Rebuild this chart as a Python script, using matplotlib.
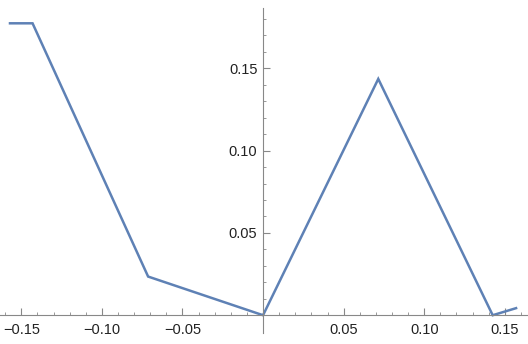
import matplotlib.pyplot as plt

xs = [-0.157, -0.143, -0.0713, 0.0, 0.0715, 0.1425, 0.157]
ys = [0.1774, 0.1774, 0.0235, 0.0, 0.1436, 0.0, 0.0043]

x_ticks = [-0.15, -0.10, -0.05, 0.05, 0.10, 0.15]
x_labels = ["\u22120.15", "\u22120.10", "\u22120.05", "0.05", "0.10", "0.15"]
y_ticks = [0.05, 0.10, 0.15]
y_labels = ["0.05", "0.10", "0.15"]

plt.rcParams['font.family'] = ['Liberation Sans', 'DejaVu Sans']

fig = plt.figure(figsize=(5.28, 3.44), dpi=100)
ax = fig.add_axes([0, 11 / 344, 1, 325 / 344])
ax.plot(xs, ys, color='#5E81B5', lw=1.8, clip_on=False, solid_joinstyle='miter')

ax.set_xlim(-0.1632, 0.1644)
ax.set_ylim(-0.0108, 0.1867)

for s in ['top', 'right']:
    ax.spines[s].set_visible(False)
ax.spines['left'].set_position(('data', 0))
ax.spines['bottom'].set_position(('data', 0))
for s in ['left', 'bottom']:
    ax.spines[s].set_color('#888888')
    ax.spines[s].set_linewidth(0.8)

ax.set_xticks(x_ticks, x_labels)
ax.set_yticks(y_ticks, y_labels)
ax.set_xticks([i / 100 for i in range(-16, 17) if i % 5 != 0], minor=True)
ax.set_yticks([i / 100 for i in range(1, 19) if i % 5 != 0], minor=True)
ax.tick_params(which='major', direction='in', length=5, width=0.8, color='#888888',
               labelsize=10.5, labelcolor='#222222')
ax.tick_params(which='minor', direction='in', length=2.5, width=0.6, color='#888888')
ax.tick_params(axis='x', pad=5.5)
ax.tick_params(axis='y', pad=4)
ax.patch.set_visible(False)

fig.savefig('out.png', dpi=100)
